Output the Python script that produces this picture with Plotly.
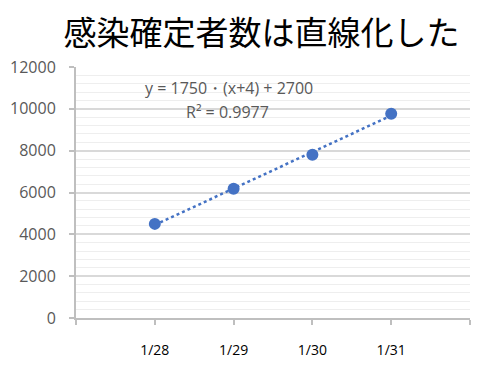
import numpy as np
import plotly.graph_objects as go

dates = ["1/28", "1/29", "1/30", "1/31"]
cases = [4500, 6180, 7800, 9770]
y_ticks = [0, 2000, 4000, 6000, 8000, 10000, 12000]
y_tick_text = ["0", "2000", "4000", "6000", "8000", "10000", "12000"]
title_text = "感染確定者数は直線化した"
eq_text = "y = 1750・(x+4) + 2700"
r2_text = "R² = 0.9977"

xi = np.arange(len(dates))
slope, intercept = np.polyfit(xi, cases, 1)
trend = slope * xi + intercept

fig = go.Figure()
fig.add_trace(go.Scatter(x=xi, y=trend, mode="lines",
                         line=dict(color="#4472C4", width=2.5, dash="dot"),
                         hoverinfo="skip", showlegend=False))
fig.add_trace(go.Scatter(x=xi, y=cases, mode="markers",
                         marker=dict(color="#4472C4", size=12),
                         showlegend=False))

fig.update_layout(
    width=480, height=369,
    margin=dict(l=75, r=10, t=67, b=47),
    paper_bgcolor="white", plot_bgcolor="white",
    title=dict(text=title_text, x=0.545, xanchor="center", y=0.91, yanchor="middle",
               font=dict(family="Noto Sans CJK JP", size=33, color="black")),
    xaxis=dict(range=[-1, 4], tickmode="array",
               tickvals=[-1, 0, 1, 2, 3, 4],
               ticktext=[""] + dates + [""],
               showgrid=False, zeroline=False,
               showline=True, linecolor="#BFBFBF", linewidth=2,
               ticks="outside", ticklen=5, tickcolor="#BFBFBF", tickwidth=2,
               ticklabelstandoff=13,
               tickfont=dict(family="Open Sans", size=14, color="black")),
    yaxis=dict(range=[0, 12000], tickmode="array", tickvals=y_ticks,
               ticktext=y_tick_text,
               showgrid=True, gridcolor="#D9D9D9", gridwidth=1.5,
               minor=dict(dtick=400, showgrid=True, gridcolor="#EEEEEE", gridwidth=1),
               zeroline=False,
               showline=True, linecolor="#BFBFBF", linewidth=2,
               ticks="outside", ticklen=5, tickcolor="#BFBFBF", tickwidth=2,
               ticklabelstandoff=10,
               tickfont=dict(family="Open Sans", size=16, color="#595959")),
)
fig.add_annotation(x=0.94, y=11000, xref="x", yref="y", text=eq_text, showarrow=False,
                   xanchor="center", font=dict(family="Open Sans", size=16, color="#595959"))
fig.add_annotation(x=0.92, y=9850, xref="x", yref="y", text=r2_text, showarrow=False,
                   xanchor="center", font=dict(family="Open Sans", size=16, color="#595959"))

fig.write_html("out.html")
